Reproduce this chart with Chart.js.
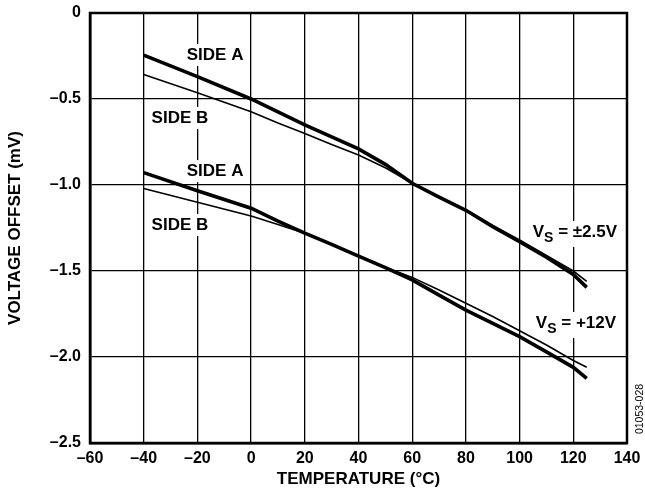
<!DOCTYPE html>
<html>
<head>
<meta charset="utf-8">
<script src="https://cdn.jsdelivr.net/npm/chart.js@4.4.1/dist/chart.umd.min.js"></script>
<style>
  html, body { margin: 0; padding: 0; background: #fff; }
  canvas { display: block; }
</style>
</head>
<body>
<canvas id="chart" width="645" height="495"></canvas>
<script>
// temperature points (°C) shared by all four curves
const temps = [-40, -20, 0, 10, 20, 30, 40, 50, 60, 70, 80, 90, 100, 110, 120, 125];

// VS = ±2.5V
const lowSupplySideA = [-0.245, -0.37, -0.50, -0.575, -0.65, -0.72, -0.79, -0.88, -0.99, -1.07, -1.147, -1.242, -1.33, -1.42, -1.52, -1.595];
const lowSupplySideB = [-0.357, -0.463, -0.574, -0.64, -0.70, -0.765, -0.826, -0.90, -0.99, -1.07, -1.145, -1.235, -1.32, -1.41, -1.50, -1.56];

// VS = +12V
const highSupplySideA = [-0.928, -1.033, -1.135, -1.21, -1.28, -1.345, -1.413, -1.48, -1.552, -1.64, -1.727, -1.805, -1.882, -1.97, -2.06, -2.124];
const highSupplySideB = [-1.02, -1.10, -1.18, -1.23, -1.28, -1.345, -1.41, -1.478, -1.537, -1.61, -1.688, -1.765, -1.847, -1.93, -2.02, -2.06];

const xTicks = [-60, -40, -20, 0, 20, 40, 60, 80, 100, 120, 140];
const yTicks = [0, -0.5, -1.0, -1.5, -2.0, -2.5];

// text notes placed in data coordinates
const notes = [
  { text: 'SIDE A', x: -13.4, y: -0.244 },
  { text: 'SIDE B', x: -26.5, y: -0.61 },
  { text: 'SIDE A', x: -13.4, y: -0.919 },
  { text: 'SIDE B', x: -26.5, y: -1.233 },
  { text: 'V', sub: 'S', rest: ' = ±2.5V', x: 120.6, y: -1.273 },
  { text: 'V', sub: 'S', rest: ' = +12V', x: 121, y: -1.802 },
];

const FONT = '"Liberation Sans", Arial, Helvetica, sans-serif';
Chart.defaults.font.family = FONT;
Chart.defaults.color = '#000';

const toPoints = (ys) => temps.map((t, i) => ({ x: t, y: ys[i] }));
const minus = (s) => s.replace('-', '\u2013');

const notesPlugin = {
  id: 'notes',
  beforeDatasetsDraw(chart) {
    const { ctx, chartArea, scales } = chart;
    ctx.save();
    ctx.textBaseline = 'middle';
    notes.forEach((n) => {
      const cx = scales.x.getPixelForValue(n.x);
      const cy = scales.y.getPixelForValue(n.y);
      const main = 'bold 17px ' + FONT;
      const small = 'bold 14px ' + FONT;
      ctx.font = main;
      let w = ctx.measureText(n.text).width;
      let wSub = 0, wRest = 0;
      if (n.sub) {
        ctx.font = small;
        wSub = ctx.measureText(n.sub).width;
        ctx.font = main;
        wRest = ctx.measureText(n.rest).width;
      }
      const total = w + wSub + wRest;
      let x0 = cx - total / 2;
      ctx.fillStyle = '#fff';
      ctx.fillRect(x0 - 3, cy - 11, total + 6, n.sub ? 26 : 22);
      ctx.fillStyle = '#000';
      ctx.textAlign = 'left';
      ctx.font = main;
      ctx.fillText(n.text, x0, cy);
      if (n.sub) {
        ctx.font = small;
        ctx.fillText(n.sub, x0 + w, cy + 6);
        ctx.font = main;
        ctx.fillText(n.rest, x0 + w + wSub, cy);
      }
    });

    // heavy frame round the plot
    ctx.strokeStyle = '#000';
    ctx.lineWidth = 2.5;
    ctx.strokeRect(chartArea.left, chartArea.top, chartArea.right - chartArea.left, chartArea.bottom - chartArea.top);

    // figure code on the right edge
    ctx.translate(640, 409);
    ctx.rotate(-Math.PI / 2);
    ctx.font = '10.5px ' + FONT;
    ctx.textAlign = 'center';
    ctx.fillText('01053-028', 0, 0);
    ctx.restore();
  },
};

const thick = { borderColor: '#000', borderWidth: 3.6, pointRadius: 0, tension: 0, fill: false };
const thin = { borderColor: '#000', borderWidth: 1.6, pointRadius: 0, tension: 0, fill: false };

new Chart(document.getElementById('chart'), {
  type: 'line',
  data: {
    datasets: [
      { label: 'VS = ±2.5V SIDE A', data: toPoints(lowSupplySideA), ...thick },
      { label: 'VS = ±2.5V SIDE B', data: toPoints(lowSupplySideB), ...thin },
      { label: 'VS = +12V SIDE A', data: toPoints(highSupplySideA), ...thick },
      { label: 'VS = +12V SIDE B', data: toPoints(highSupplySideB), ...thin },
    ],
  },
  options: {
    responsive: false,
    animation: false,
    devicePixelRatio: 1,
    layout: { padding: { left: 0, right: 18, top: 13, bottom: 0 } },
    plugins: { legend: { display: false }, tooltip: { enabled: false } },
    scales: {
      x: {
        type: 'linear',
        min: -60,
        max: 140,
        afterFit: (s) => { s.height = 52; },
        afterBuildTicks: (s) => { s.ticks = xTicks.map((v) => ({ value: v })); },
        grid: { color: '#000', lineWidth: 1.3, drawTicks: true, tickLength: 6, tickColor: 'rgba(0,0,0,0)' },
        border: { color: '#000', width: 2.5 },
        ticks: {
          padding: 0,
          font: { size: 16, weight: 'bold' },
          callback: (v) => minus(String(v)),
        },
        title: {
          display: true,
          text: 'TEMPERATURE (°C)',
          font: { size: 17, weight: 'bold' },
          padding: { top: 0, bottom: 5 },
        },
      },
      y: {
        type: 'linear',
        min: -2.5,
        max: 0,
        afterFit: (s) => { s.width = 90; },
        afterBuildTicks: (s) => { s.ticks = yTicks.map((v) => ({ value: v })); },
        grid: { color: '#000', lineWidth: 1.3, drawTicks: true, tickLength: 9, tickColor: 'rgba(0,0,0,0)' },
        border: { color: '#000', width: 2.5 },
        ticks: {
          padding: 0,
          font: { size: 16, weight: 'bold' },
          callback: (v) => (v === 0 ? '0' : minus(v.toFixed(1))),
        },
        title: {
          display: true,
          text: 'VOLTAGE OFFSET (mV)',
          font: { size: 17, weight: 'bold' },
          padding: { top: 5, bottom: 0 },
        },
      },
    },
  },
  plugins: [notesPlugin],
});
</script>
</body>
</html>
